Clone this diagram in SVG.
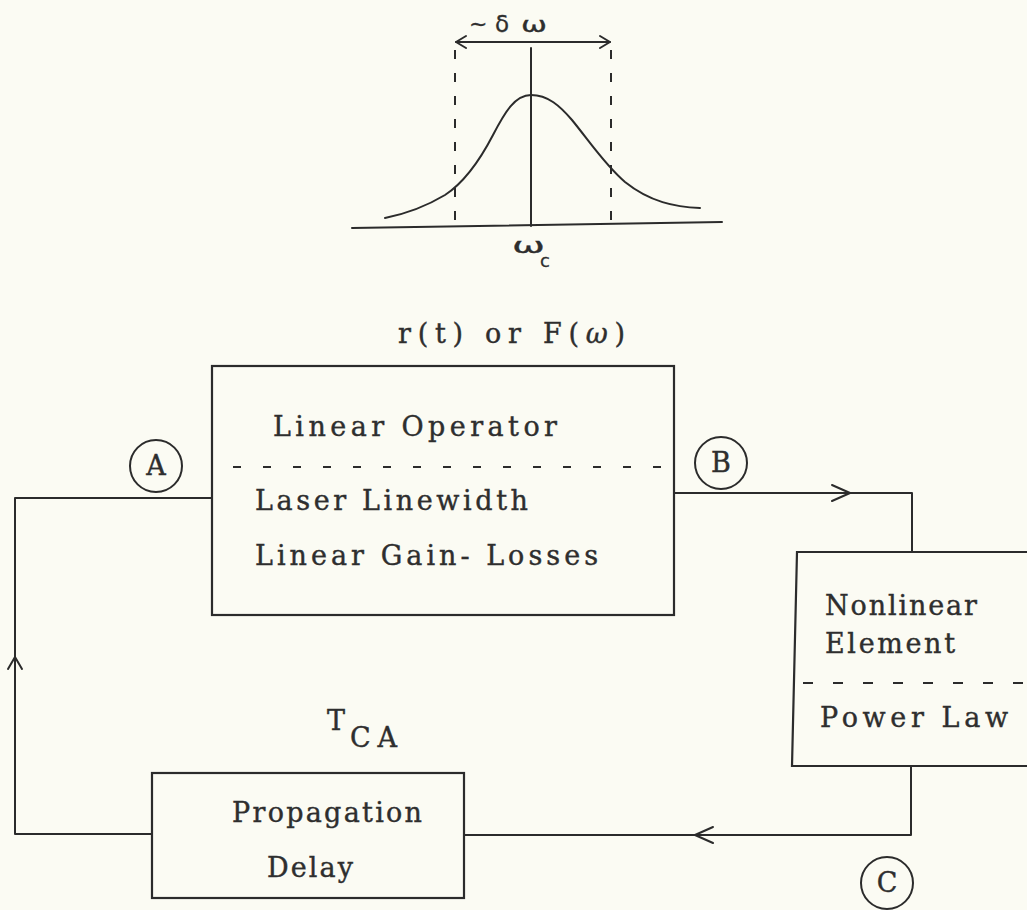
<svg xmlns="http://www.w3.org/2000/svg" xmlns:xlink="http://www.w3.org/1999/xlink" width="1027" height="910" viewBox="0 0 1027 910">
<style>
  .ln { fill: none; stroke: #2b2b2b; stroke-width: 2; stroke-linecap: round; stroke-linejoin: round; }
  .dash { fill: none; stroke: #2b2b2b; stroke-width: 2; stroke-dasharray: 8 22; }
  .vdash { fill: none; stroke: #2b2b2b; stroke-width: 2; stroke-dasharray: 9 14; }
  .box { fill: none; stroke: #2b2b2b; stroke-width: 2.2; }
  .tw { font-family: "DejaVu Serif", serif; font-size: 27px; fill: #2e2e2e; stroke: #2e2e2e; stroke-width: 0.4; }
  .gr { font-family: "DejaVu Sans", sans-serif; fill: #2e2e2e; stroke: #2e2e2e; stroke-width: 0.3; }
  .circ { fill: none; stroke: #2b2b2b; stroke-width: 2; }
</style>
<defs>
  <path id="chev" class="ln" d="M-18,-8 L0,0 L-18,8"/>
  <path id="chevS" class="ln" d="M-12,-7 L0,0 L-12,7"/>
</defs>
<rect x="0" y="0" width="1027" height="910" fill="#fbfbf3"/>

<g id="spectrum">
  <line class="ln" x1="352" y1="228" x2="722" y2="222"/>
  <line class="ln" x1="531" y1="48" x2="531" y2="226"/>
  <line class="vdash" x1="455" y1="50" x2="455" y2="227"/>
  <line class="vdash" x1="611" y1="50" x2="611" y2="222"/>
  <line class="ln" x1="456" y1="42" x2="610" y2="42"/>
  <path class="ln" d="M466,36 L456,42 L466,48"/>
  <path class="ln" d="M600,36 L610,42 L600,48"/>
  <path class="ln" d="M385,218 C405,214 425,207 445,195 C465,182 480,160 493,135 C505,112 515,95 531,95 C548,95 560,106 572,120 C590,142 605,165 625,182 C650,202 675,207 700,208"/>
  <text class="gr" x="469" y="31" font-size="22">~</text>
  <text class="gr" x="495" y="32" font-size="23">δ</text>
  <text class="gr" x="521" y="32" font-size="21" textLength="26" lengthAdjust="spacingAndGlyphs">ω</text>
  <text class="gr" x="512" y="253" font-size="22" textLength="33" lengthAdjust="spacingAndGlyphs">ω</text>
  <text class="gr" x="540" y="267" font-size="18">c</text>
</g>

<g id="connectors">
  <path class="ln" d="M152,834 L15,834 L15,498 L212,498"/>
  <use xlink:href="#chevS" transform="translate(15,657) rotate(-90)"/>
  <path class="ln" d="M674,493 L912,493 L912,552"/>
  <use xlink:href="#chev" transform="translate(850,493)"/>
  <path class="ln" d="M911,766 L911,835 L464,835"/>
  <use xlink:href="#chev" transform="translate(695,835) rotate(180)"/>
</g>

<g id="label-rt">
  <text class="tw" x="398" y="343" textLength="227" lengthAdjust="spacing">r(t) or F(<tspan font-style="italic">ω</tspan>)</text>
</g>

<g id="linear-operator">
  <rect class="box" x="212" y="366" width="462" height="249"/>
  <text class="tw" x="273" y="436" textLength="284" lengthAdjust="spacing">Linear Operator</text>
  <line class="dash" x1="233" y1="467" x2="664" y2="467"/>
  <text class="tw" x="255" y="510" textLength="273" lengthAdjust="spacing">Laser Linewidth</text>
  <text class="tw" x="255" y="565" textLength="343" lengthAdjust="spacing">Linear Gain- Losses</text>
</g>

<g id="nonlinear-element">
  <path class="box" d="M1030,552 L797,552 L792,766 L1030,766"/>
  <text class="tw" x="825" y="615" textLength="152" lengthAdjust="spacing">Nonlinear</text>
  <text class="tw" x="825" y="653" textLength="130" lengthAdjust="spacing">Element</text>
  <line class="dash" x1="803" y1="683" x2="1027" y2="683" style="stroke-dasharray:10 20"/>
  <text class="tw" x="820" y="727" textLength="188" lengthAdjust="spacing">Power Law</text>
</g>

<g id="propagation-delay">
  <rect class="box" x="152" y="773" width="312" height="125"/>
  <text class="tw" x="232" y="822" textLength="190" lengthAdjust="spacing">Propagation</text>
  <text class="tw" x="267" y="877" textLength="86" lengthAdjust="spacing">Delay</text>
  <text class="tw" x="327" y="730">T</text>
  <text class="tw" x="350" y="747" textLength="47" lengthAdjust="spacing">CA</text>
</g>

<g id="point-A">
  <circle class="circ" cx="156" cy="466" r="26"/>
  <text class="tw" x="156" y="475" text-anchor="middle" font-size="24">A</text>
</g>
<g id="point-B">
  <circle class="circ" cx="721" cy="463" r="26"/>
  <text class="tw" x="721" y="472" text-anchor="middle" font-size="24">B</text>
</g>
<g id="point-C">
  <circle class="circ" cx="887" cy="883" r="26"/>
  <text class="tw" x="887" y="892" text-anchor="middle" font-size="24">C</text>
</g>
</svg>
